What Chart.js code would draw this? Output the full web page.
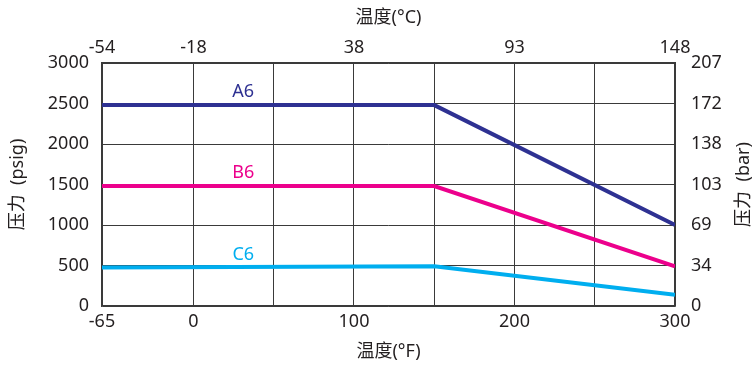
<!DOCTYPE html>
<html>
<head>
<meta charset="utf-8">
<script src="https://cdn.jsdelivr.net/npm/chart.js@4.4.0/dist/chart.umd.min.js"></script>
<style>
  html, body { margin: 0; padding: 0; background: #fff; }
  #wrap { width: 754px; height: 365px; }
</style>
</head>
<body>
<div id="wrap"><canvas id="chart"></canvas></div>
<script>
// temperature in °F and pressure in psig
const tempF = [-65, 150, 300];
const a6 = [2480, 2480, 1000];
const b6 = [1480, 1480, 490];
const c6 = [475, 490, 140];

const seriesNames = ['A6', 'B6', 'C6'];
const seriesColors = ['#2e3192', '#ec008c', '#00aeef'];

// the source drawing squeezes the -65..0 span, so the axis edge sits at about -57
const xEdge = -57;
const fGrid = [xEdge, 0, 50, 100, 150, 200, 250, 300];
const fLabels = ['-65', '0', '', '100', '', '200', '', '300'];
const cLabels = ['-54', '-18', '', '38', '', '93', '', '148'];
const psiTicks = [0, 500, 1000, 1500, 2000, 2500, 3000];
const barLabels = ['0', '34', '69', '103', '138', '172', '207'];

const textColor = '#231f20';
const gridColor = '#3a3a3a';
const FONT = "'Noto Sans', 'Noto Sans CJK SC', sans-serif";

const toPoints = (ys) => tempF.map((x, i) => ({ x: x, y: ys[i] }));

// series labels above the flat part of each line
const seriesLabels = {
    id: 'seriesLabels',
    afterDatasetsDraw(chart) {
        const { ctx, scales } = chart;
        ctx.save();
        ctx.font = '18px ' + FONT;
        ctx.textAlign = 'center';
        ctx.textBaseline = 'bottom';
        chart.data.datasets.forEach((ds, i) => {
            const x = scales.x.getPixelForValue(31);
            const y = scales.y.getPixelForValue(ds.data[0].y);
            ctx.fillStyle = seriesColors[i];
            ctx.fillText(seriesNames[i], x, y - 4);
        });
        ctx.restore();
    }
};

// right title reads bottom to top
const rightTitle = {
    id: 'rightTitle',
    afterDraw(chart) {
        const { ctx, chartArea } = chart;
        ctx.save();
        ctx.font = '18px ' + FONT;
        ctx.fillStyle = textColor;
        ctx.textAlign = 'center';
        ctx.textBaseline = 'middle';
        ctx.translate(744, (chartArea.top + chartArea.bottom) / 2);
        ctx.rotate(-Math.PI / 2);
        ctx.fillText('压力  (bar)', 0, 0);
        ctx.restore();
    }
};

const tickFont = { family: FONT, size: 18 };

new Chart(document.getElementById('chart'), {
    type: 'line',
    data: {
        datasets: [a6, b6, c6].map((ys, i) => ({
            label: seriesNames[i],
            data: toPoints(ys),
            borderColor: seriesColors[i],
            borderWidth: 4,
            pointRadius: 0,
            tension: 0,
            xAxisID: 'x',
            yAxisID: 'y'
        }))
    },
    options: {
        responsive: true,
        maintainAspectRatio: false,
        animation: false,
        layout: { padding: 0 },
        plugins: {
            legend: { display: false },
            tooltip: { enabled: false }
        },
        scales: {
            x: {
                type: 'linear',
                position: 'bottom',
                min: xEdge,
                max: 300,
                afterBuildTicks: (s) => { s.ticks = fGrid.map(v => ({ value: v })); },
                afterFit: (s) => { s.height = 59; },
                ticks: {
                    autoSkip: false,
                    maxRotation: 0,
                    padding: 5,
                    color: textColor,
                    font: tickFont,
                    callback: (v, i) => fLabels[i]
                },
                grid: { color: gridColor, lineWidth: 1, drawTicks: false },
                border: { color: gridColor, width: 1.5 },
                title: {
                    display: true,
                    text: '温度(°F)',
                    color: textColor,
                    font: { family: FONT, size: 18 },
                    padding: { top: 0, bottom: 2 }
                }
            },
            xTop: {
                type: 'linear',
                position: 'top',
                min: xEdge,
                max: 300,
                afterBuildTicks: (s) => { s.ticks = fGrid.map(v => ({ value: v })); },
                afterFit: (s) => { s.height = 63; },
                ticks: {
                    autoSkip: false,
                    maxRotation: 0,
                    padding: 4,
                    color: textColor,
                    font: tickFont,
                    callback: (v, i) => cLabels[i]
                },
                grid: { display: false, drawTicks: false },
                border: { color: gridColor, width: 1.5 },
                title: {
                    display: true,
                    text: '温度(°C)',
                    color: textColor,
                    font: { family: FONT, size: 18 },
                    padding: { top: 7, bottom: 0 }
                }
            },
            y: {
                type: 'linear',
                position: 'left',
                min: 0,
                max: 3000,
                afterBuildTicks: (s) => { s.ticks = psiTicks.map(v => ({ value: v })); },
                afterFit: (s) => { s.width = 102; },
                ticks: {
                    padding: 13,
                    color: textColor,
                    font: tickFont,
                    callback: (v) => String(v)
                },
                grid: { color: gridColor, lineWidth: 1, drawTicks: false },
                border: { color: gridColor, width: 1.5 },
                title: {
                    display: true,
                    text: '压力  (psig)',
                    color: textColor,
                    font: { family: FONT, size: 18 },
                    padding: { top: 7, bottom: 0 }
                }
            },
            yRight: {
                type: 'linear',
                position: 'right',
                min: 0,
                max: 3000,
                afterBuildTicks: (s) => { s.ticks = psiTicks.map(v => ({ value: v })); },
                afterFit: (s) => { s.width = 79; },
                ticks: {
                    padding: 16,
                    color: textColor,
                    font: tickFont,
                    callback: (v, i) => barLabels[i]
                },
                grid: { display: false, drawTicks: false },
                border: { color: gridColor, width: 1.5 }
            }
        }
    },
    plugins: [seriesLabels, rightTitle]
});
</script>
</body>
</html>
